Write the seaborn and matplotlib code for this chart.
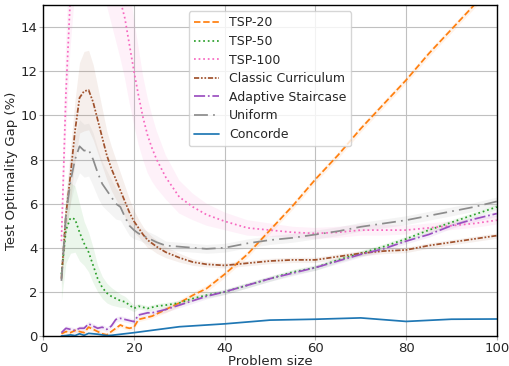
import numpy as np
import pandas as pd
import seaborn as sns
import matplotlib
matplotlib.use("Agg")
import matplotlib.pyplot as plt

# problem sizes (shared by the learned models)
sizes = [4, 5, 6, 7, 8, 9, 10, 11, 12, 13, 14, 15, 16, 17, 18, 19, 20, 21, 22, 23, 24, 25,
         27, 30, 33, 36, 40, 45, 50, 55, 60, 65, 70, 75, 80, 85, 90, 95, 100]

tsp20 = [0.1, 0.2, 0.15, 0.25, 0.2, 0.15, 0.4, 0.3, 0.2, 0.1, 0.05, 0.2, 0.35, 0.5, 0.4, 0.35, 0.4,
         0.75, 0.8, 0.85, 0.9, 1.0, 1.2, 1.5, 1.85, 2.15, 2.8, 3.7, 4.8, 5.9, 7.1, 8.2, 9.4, 10.5,
         11.6, 12.8, 13.9, 15.0, 16.1]
tsp20_err = [0.1] * 22 + [0.15] * 17

tsp50 = [2.8, 4.8, 5.35, 5.3, 4.7, 4.2, 3.8, 3.2, 2.6, 2.2, 1.95, 1.8, 1.7, 1.6, 1.55, 1.4, 1.25,
         1.35, 1.3, 1.25, 1.3, 1.35, 1.4, 1.5, 1.7, 1.85, 2.0, 2.3, 2.6, 2.9, 3.1, 3.45, 3.75, 4.05,
         4.4, 4.8, 5.15, 5.5, 5.85]
tsp50_err = [1.2, 1.5, 1.6, 1.5, 1.3, 1.0, 0.9, 0.8, 0.6, 0.5, 0.45, 0.4, 0.35, 0.3, 0.25, 0.2,
             0.15] + [0.12] * 22

tsp100 = [4.3, 11.0, 15.5, 18.0, 20.0, 21.0, 21.0, 20.5, 19.5, 18.5, 17.5, 16.7, 15.9, 15.2, 14.4,
          13.2, 12.0, 10.9, 9.9, 9.1, 8.5, 8.0, 7.2, 6.3, 5.85, 5.5, 5.2, 4.9, 4.8, 4.7, 4.65, 4.7,
          4.8, 4.8, 4.8, 4.9, 5.0, 5.1, 5.25]
tsp100_err = [1.0, 2.0, 2.5, 2.5, 2.5, 2.5, 2.5, 2.5, 2.5, 2.5, 2.5, 2.5, 2.5, 2.6, 2.7, 2.6, 2.4,
              2.2, 1.9, 1.7, 1.5, 1.3, 1.0, 0.75, 0.6, 0.5, 0.4, 0.35, 0.3, 0.25, 0.25, 0.25, 0.25,
              0.25, 0.2, 0.2, 0.2, 0.2, 0.2]

classic = [2.6, 5.5, 7.3, 9.3, 10.8, 11.1, 11.15, 10.6, 9.8, 9.0, 8.2, 7.6, 7.1, 6.6, 6.1, 5.6, 5.2,
           4.9, 4.6, 4.35, 4.2, 4.05, 3.8, 3.55, 3.35, 3.25, 3.2, 3.3, 3.4, 3.45, 3.45, 3.6, 3.75,
           3.85, 3.9, 4.1, 4.25, 4.4, 4.55]
classic_err = [0.3, 0.9, 1.2, 1.4, 1.6, 1.8, 1.8, 1.7, 1.5, 1.3, 1.1, 1.0, 0.9, 0.8, 0.7, 0.6, 0.5,
               0.4, 0.35, 0.35, 0.3, 0.3, 0.25, 0.2, 0.15] + [0.12] * 14

adaptive = [0.15, 0.35, 0.3, 0.25, 0.35, 0.35, 0.55, 0.45, 0.35, 0.4, 0.3, 0.45, 0.75, 0.8, 0.75,
            0.7, 0.65, 0.95, 1.0, 1.05, 1.05, 1.1, 1.2, 1.4, 1.6, 1.8, 2.0, 2.3, 2.6, 2.85, 3.1,
            3.4, 3.7, 3.95, 4.3, 4.6, 5.0, 5.3, 5.55]
adaptive_err = [0.12] * 39

uniform = [2.5, 5.5, 7.0, 8.0, 8.6, 8.4, 8.45, 8.0, 7.4, 6.9, 6.6, 6.3, 6.0, 5.85, 5.4, 5.0, 4.8,
           4.65, 4.55, 4.45, 4.35, 4.25, 4.1, 4.05, 4.0, 3.95, 4.0, 4.2, 4.35, 4.45, 4.6, 4.75,
           4.95, 5.1, 5.25, 5.45, 5.65, 5.85, 6.1]
uniform_err = [0.3, 0.8, 1.0, 1.1, 1.2, 1.2, 1.2, 1.2, 1.1, 1.0, 0.9, 0.8, 0.7, 0.6, 0.5, 0.45, 0.4,
               0.3, 0.3, 0.3, 0.3, 0.3] + [0.2] * 17

# concorde is only evaluated at a few sizes
conc_sizes = [4, 5, 6, 7, 8, 9, 10, 11, 12, 13, 14, 15, 20, 30, 40, 50, 60, 70, 80, 90, 100]
concorde = [0.0, 0.02, 0.05, 0.02, 0.1, 0.03, 0.12, 0.1, 0.08, 0.05, 0.02, 0.03, 0.15, 0.42, 0.55,
            0.72, 0.76, 0.82, 0.66, 0.76, 0.77]

sns.set_style("whitegrid", {"axes.edgecolor": "black", "xtick.bottom": True, "ytick.left": True,
                            "grid.color": "#c0c0c0"})
plt.rcParams["font.family"] = ["DejaVu Sans"]
plt.rcParams["font.size"] = 9.5

fig, ax = plt.subplots(figsize=(5.09, 3.66), dpi=100)
fig.subplots_adjust(left=0.085, right=0.976, bottom=0.082, top=0.986)

series = [
    ("TSP-20", tsp20, tsp20_err, "#ff7f0e", "--"),
    ("TSP-50", tsp50, tsp50_err, "#2ca02c", ":"),
    ("TSP-100", tsp100, tsp100_err, "#f768c0", ":"),
    ("Classic Curriculum", classic, classic_err, "#a0522d", (0, (3, 1, 1, 1, 1, 1))),
    ("Adaptive Staircase", adaptive, adaptive_err, "#9b4fc0", "-."),
    ("Uniform", uniform, uniform_err, "#8c8c8c", (0, (8, 3, 1, 3))),
]

x = np.array(sizes)
for name, vals, err, col, ls in series:
    v = np.array(vals)
    e = np.array(err)
    ax.fill_between(x, v - e, v + e, color=col, alpha=0.09, linewidth=0)

for name, vals, err, col, ls in series:
    df = pd.DataFrame({"size": sizes, "gap": vals})
    sns.lineplot(data=df, x="size", y="gap", ax=ax, color=col, linestyle=ls, linewidth=1.25, label=name)

dfc = pd.DataFrame({"size": conc_sizes, "gap": concorde})
sns.lineplot(data=dfc, x="size", y="gap", ax=ax, color="#1f77b4", linewidth=1.25, label="Concorde")

ax.set_xlim(0, 100)
ax.set_ylim(0, 15)
ax.set_xticks([0, 20, 40, 60, 80, 100])
ax.set_yticks([0, 2, 4, 6, 8, 10, 12, 14])
ax.tick_params(axis="both", direction="out", length=3, width=0.8, color="#b0b0b0", pad=1)
ax.set_xlabel("Problem size", labelpad=0)
ax.set_ylabel("Test Optimality Gap (%)", labelpad=2)
for s in ax.spines.values():
    s.set_color("black")
    s.set_linewidth(1.0)

ax.legend(loc="upper center", fontsize=9, borderpad=0.4, labelspacing=0.45)

plt.savefig("out.png", dpi=100)
